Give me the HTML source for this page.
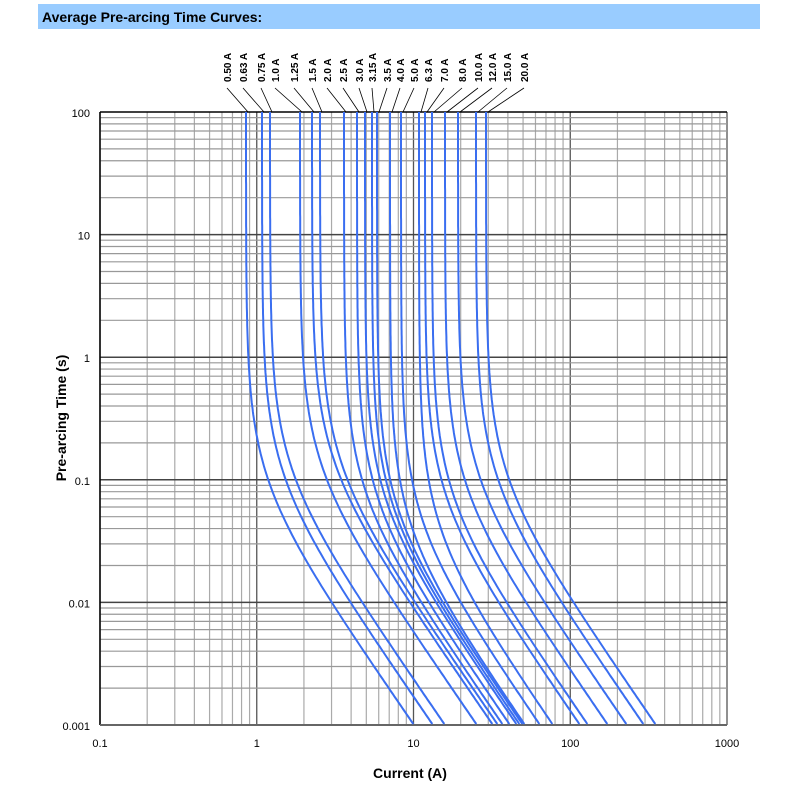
<!DOCTYPE html>
<html><head><meta charset="utf-8"><style>
body{margin:0;background:#fff;width:790px;height:787px;overflow:hidden}
svg{display:block}
</style></head><body>
<svg id="s" width="790" height="787" xmlns="http://www.w3.org/2000/svg" font-family="Liberation Sans, Arial, sans-serif">
<rect x="38" y="4" width="722" height="25" fill="#99ccff"/>
<text x="42" y="22" font-size="14" font-weight="bold" fill="#000">Average Pre-arcing Time Curves:</text>
<g id="grid"></g>
<g id="curves" fill="none" stroke="#3a6ef0" stroke-width="2"></g>
<g id="labels" font-size="10" font-weight="bold"></g>
<text x="410" y="778" font-size="14" font-weight="bold" text-anchor="middle">Current (A)</text>
<text transform="translate(66,418) rotate(-90)" font-size="14" font-weight="bold" text-anchor="middle">Pre-arcing Time (s)</text>
</svg>
<script>
var NS="http://www.w3.org/2000/svg";
function el(p,t,a,txt){var e=document.createElementNS(NS,t);for(var k in a)e.setAttribute(k,a[k]);if(txt)e.textContent=txt;p.appendChild(e);return e;}
var g=document.getElementById('grid');
var X0=100,XD=156.75,Y0=112,YD=122.6,YB=725;
for(var d=0;d<4;d++)for(var m=1;m<=9;m++){var x=X0+XD*(d+Math.log10(m));el(g,'line',{x1:x,y1:Y0,x2:x,y2:YB,stroke:m==1?'#555':'#aaa','stroke-width':m==1?1.3:1.2});}
el(g,'line',{x1:X0+XD*4,y1:Y0,x2:X0+XD*4,y2:YB,stroke:'#555','stroke-width':1.3});
for(var d=0;d<5;d++)for(var m=1;m<=9;m++){var y=YB-YD*(d+Math.log10(m));el(g,'line',{x1:X0,y1:y,x2:X0+XD*4,y2:y,stroke:m==1?'#444':'#999','stroke-width':m==1?1.5:1.2});}
el(g,'line',{x1:X0,y1:Y0,x2:X0+XD*4,y2:Y0,stroke:'#000','stroke-width':1.5});
el(g,'line',{x1:X0,y1:Y0,x2:X0,y2:YB,stroke:'#000','stroke-width':1.5});
el(g,'line',{x1:X0,y1:YB,x2:X0+XD*4,y2:YB,stroke:'#666','stroke-width':2});
var yl=['0.001','0.01','0.1','1','10','100'];
for(var i=0;i<6;i++)el(g,'text',{x:90,y:YB-YD*i+5,'font-size':11,'text-anchor':'end'},yl[i]);
var xl=['0.1','1','10','100','1000'];
for(var i=0;i<5;i++)el(g,'text',{x:X0+XD*i,y:747,'font-size':11,'text-anchor':'middle'},xl[i]);
var xa=[246,262,270,300,312,320,344,357,365,372,377,390,401,419,425,432,445,458,476,486];
var xe=[414,433,445,477,493,498,503,510,517,520,523,525,540,553,580,588,608,627,644,656];
var cg=document.getElementById('curves');
var k=0.69,s=48;
function sp(z){return z>30?z:Math.log(1+Math.exp(z));}
for(var i=0;i<20;i++){
 var dx=xe[i]-xa[i];
 var lo=300,hi=725;for(var it=0;it<50;it++){var mid=(lo+hi)/2;if(k*s*sp((725-mid)/s)>dx)lo=mid;else hi=mid;}
 var Yb=(lo+hi)/2,d='';
 for(var y=Y0;y<=YB;y+=3){var x=xa[i]+k*s*sp((y-Yb)/s)-k*s*sp((Y0-Yb)/s);d+=(y==Y0?'M':'L')+x.toFixed(1)+' '+y+' ';}
 el(cg,'path',{d:d});
}
var lab=['0.50 A','0.63 A','0.75 A','1.0 A','1.25 A','1.5 A','2.0 A','2.5 A','3.0 A','3.15 A','3.5 A','4.0 A','5.0 A','6.3 A','7.0 A','8.0 A','10.0 A','12.0 A','15.0 A','20.0 A'];
var lx=[227,243,261,275,294,312,327,343,359,372,387,400,414,428,444,462,478,492,507,524];
var lg=document.getElementById('labels');
for(var i=0;i<20;i++){
 el(lg,'text',{transform:'translate('+(lx[i]+4)+',82) rotate(-90)'},lab[i]);
 el(lg,'line',{x1:lx[i],y1:88,x2:xa[i]+2,y2:112,stroke:'#000','stroke-width':0.8});
}
</script>
</body></html>
